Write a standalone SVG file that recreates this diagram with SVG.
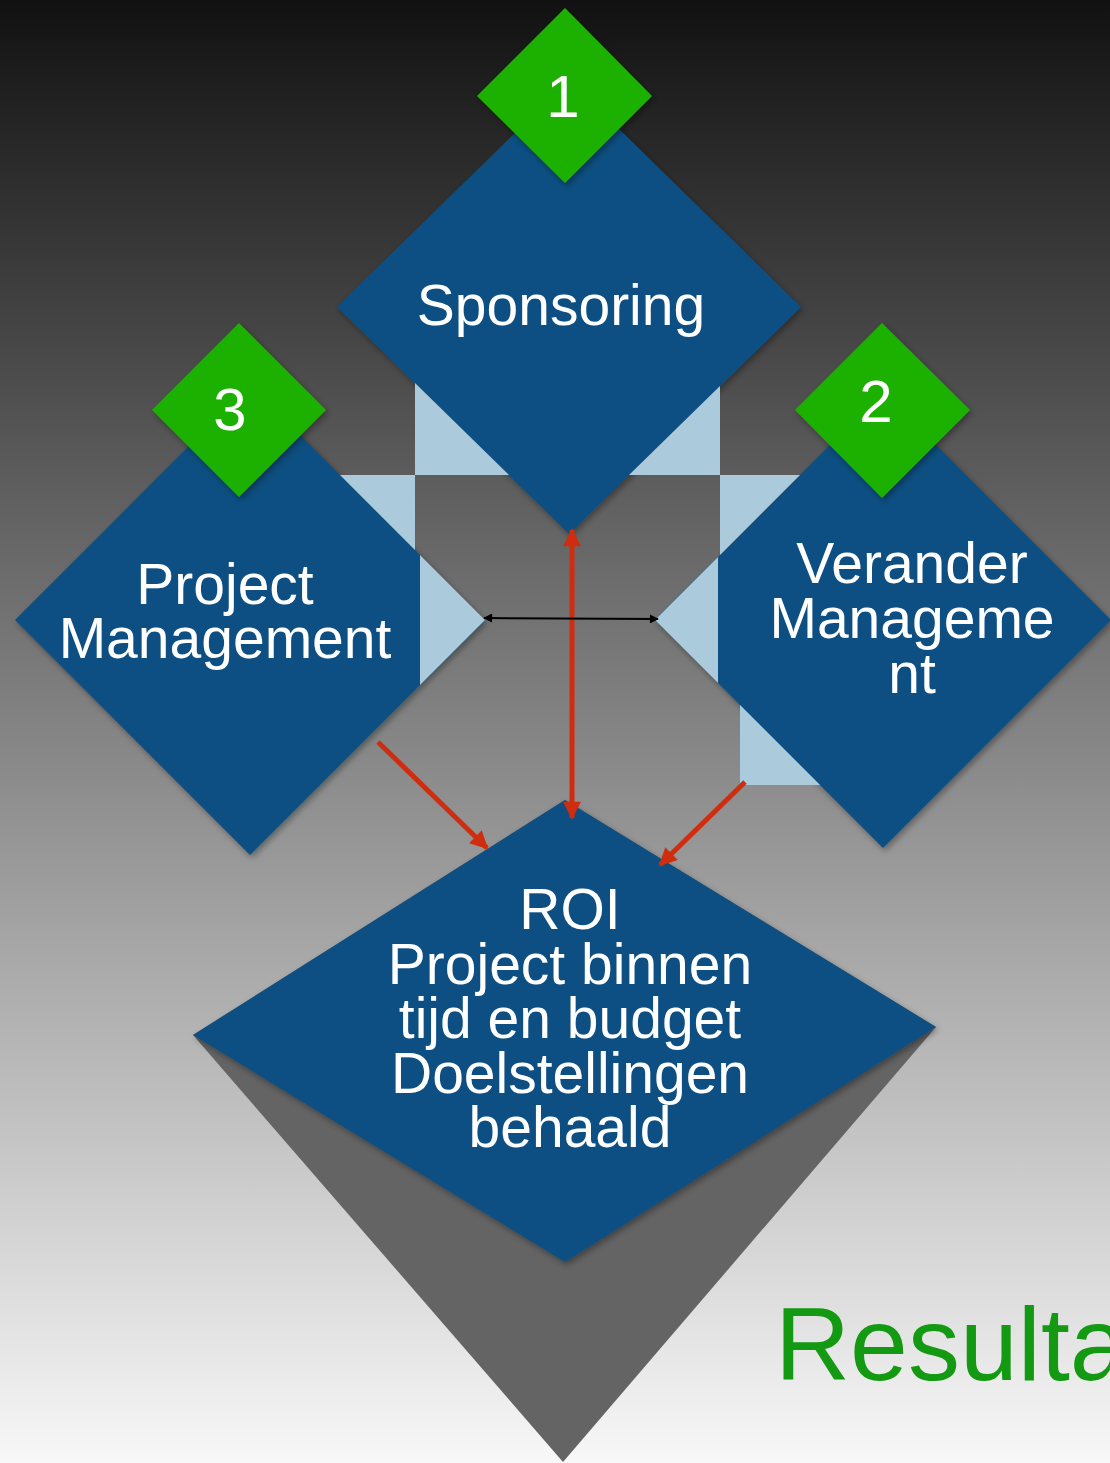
<svg xmlns="http://www.w3.org/2000/svg" width="1110" height="1463" viewBox="0 0 1110 1463">
<defs>
<linearGradient id="bg" x1="0" y1="0" x2="0" y2="1">
<stop offset="0" stop-color="#111111"/>
<stop offset="1" stop-color="#f8f8f8"/>
</linearGradient>
<filter id="sh" x="-10%" y="-10%" width="120%" height="120%">
<feDropShadow dx="2" dy="3" stdDeviation="3" flood-color="#000" flood-opacity="0.35"/>
</filter>
<marker id="ra" viewBox="0 0 10 10" refX="9" refY="5" markerWidth="20" markerHeight="18" markerUnits="userSpaceOnUse" orient="auto-start-reverse">
<path d="M0,0 L10,5 L0,10 z" fill="#cf2d0f"/>
</marker>
<marker id="ba" viewBox="0 0 10 10" refX="9" refY="5" markerWidth="11" markerHeight="9" markerUnits="userSpaceOnUse" orient="auto-start-reverse">
<path d="M0,0 L10,5 L0,10 z" fill="#000"/>
</marker>
</defs>
<style>
.blue{fill:#0b4f82;filter:url(#sh)}
.lb{fill:#abcadb}
.green{fill:#1fb000;filter:url(#sh)}
.t{font-family:"Liberation Sans",Arial,sans-serif;fill:#ffffff;text-anchor:middle}
.lbl{font-size:57px}
.num{font-size:60px}
.red{stroke:#cf2d0f;stroke-width:5;fill:none}
</style>
<rect x="0" y="0" width="1110" height="1463" fill="url(#bg)"/>
<polygon points="193,1035 565,800 936,1027 563,1462" fill="#646464"/>

<g id="node-roi">
<polygon class="blue" points="193,1035 565,800 936,1027 565,1262"/>
<text class="t lbl" x="570" y="929">ROI</text>
<text class="t lbl" x="570" y="984">Project binnen</text>
<text class="t lbl" x="570" y="1038">tijd en budget</text>
<text class="t lbl" x="570" y="1093">Doelstellingen</text>
<text class="t lbl" x="570" y="1147">behaald</text>
</g>

<g id="node-pm">
<polygon class="blue" points="15,620 250,385 485,620 250,855"/>
<polygon class="lb" points="420,555 485,620 420,685"/>
<text class="t lbl" x="225" y="604">Project</text>
<text class="t lbl" x="225" y="658">Management</text>
</g>

<g id="node-vm">
<polygon class="blue" points="655,620 883,392 1111,620 883,848"/>
<polygon class="lb" points="718,557 655,620 718,683"/>
<text class="t lbl" x="912" y="583">Verander</text>
<text class="t lbl" x="912" y="638">Manageme</text>
<text class="t lbl" x="912" y="693">nt</text>
</g>

<g id="node-sponsoring">
<polygon class="blue" points="337,307 569,80 801,307 569,534"/>
<text class="t lbl" x="561" y="325">Sponsoring</text>
</g>

<g id="frame">
<polygon class="lb" points="415,383 415,475 509,475"/>
<polygon class="lb" points="720,386 720,475 629,475"/>
<polygon class="lb" points="340,475 415,475 415,550"/>
<polygon class="lb" points="720,475 800,475 720,555"/>
<polygon class="lb" points="740,705 740,785 820,785"/>
</g>

<g id="badge-1">
<polygon class="green" points="477,96 565,8 652,96 565,183"/>
<text class="t num" x="563" y="117">1</text>
</g>
<g id="badge-3">
<polygon class="green" points="152,410 239,323 326,410 239,497"/>
<text class="t num" x="230" y="430">3</text>
</g>
<g id="badge-2">
<polygon class="green" points="795,410 882,323 970,410 882,498"/>
<text class="t num" x="876" y="422">2</text>
</g>

<g id="connectors">
<line class="red" x1="572" y1="530" x2="572" y2="818" marker-start="url(#ra)" marker-end="url(#ra)"/>
<line class="red" x1="378" y1="742" x2="487" y2="848" marker-end="url(#ra)"/>
<line class="red" x1="745" y1="782" x2="660" y2="865" marker-end="url(#ra)"/>
<line x1="484" y1="618" x2="658" y2="619" stroke="#000" stroke-width="2" marker-start="url(#ba)" marker-end="url(#ba)"/>
</g>

<text x="775" y="1380" font-family="Liberation Sans, Arial, sans-serif" font-size="104" fill="#139a12">Resulta</text>
</svg>
